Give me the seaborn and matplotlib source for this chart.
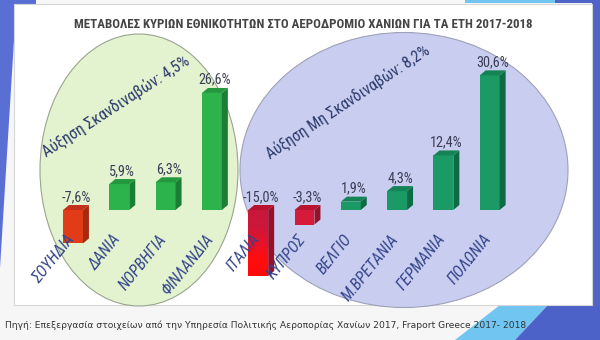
import os
import numpy as np
import matplotlib
matplotlib.use("Agg")
import matplotlib.pyplot as plt
from matplotlib import font_manager
from matplotlib.font_manager import FontProperties
from matplotlib.patches import Ellipse, Polygon, Rectangle
import seaborn as sns

# ---- data ----
countries = ["ΣΟΥΗΔΙΑ", "ΔΑΝΙΑ", "ΝΟΡΒΗΓΙΑ", "ΦΙΝΛΑΝΔΙΑ", "ΙΤΑΛΙΑ",
             "ΚΥΠΡΟΣ", "ΒΕΛΓΙΟ", "Μ.ΒΡΕΤΑΝΙΑ", "ΓΕΡΜΑΝΙΑ", "ΠΟΛΩΝΙΑ"]
changes = [-7.6, 5.9, 6.3, 26.6, -15.0, -3.3, 1.9, 4.3, 12.4, 30.6]
value_labels = ["-7,6%", "5,9%", "6,3%", "26,6%", "-15,0%",
                "-3,3%", "1,9%", "4,3%", "12,4%", "30,6%"]
front_colors = ["#e23b17", "#2db34b", "#2db34b", "#2db34b", "#d9163a",
                "#d61a3a", "#1b9a66", "#1b9a66", "#1b9a66", "#1b9a66"]
side_colors = ["#a52a10", "#1c7d34", "#1c7d34", "#1c7d34", "#96102a",
               "#961229", "#0f6a46", "#0f6a46", "#0f6a46", "#0f6a46"]
top_colors = ["#c4301a", "#24983f", "#24983f", "#24983f", "#b8122f",
              "#b8142f", "#148356", "#148356", "#148356", "#148356"]
title = "ΜΕΤΑΒΟΛΕΣ ΚΥΡΙΩΝ ΕΘΝΙΚΟΤΗΤΩΝ ΣΤΟ ΑΕΡΟΔΡΟΜΙΟ ΧΑΝΙΩΝ ΓΙΑ ΤΑ ΕΤΗ 2017-2018"
note_scand = "Αύξηση Σκανδιναβών: 4,5%"
note_nonscand = "Αύξηση Μη Σκανδιναβών: 8,2%"
caption = ("Πηγή: Επεξεργασία στοιχείων από την Υπηρεσία Πολιτικής Αεροπορίας "
           "Χανίων 2017, Fraport Greece 2017- 2018")

sns.set_style("white")
plt.rcParams["font.family"] = ["DejaVu Sans"]


def find_condensed(weight, italic=False):
    prefs = ["roboto", "noto", "dejavu", "open", "liberation", "lato"]
    found = []
    for f in font_manager.fontManager.ttflist:
        base = os.path.basename(f.fname).lower()
        nm = f.name.lower()
        cond = ("condensed" in base or "narrow" in base or "condensed" in nm
                or "narrow" in nm or f.stretch in ("condensed", "semi-condensed"))
        if not cond or "extra" in base or "ultra" in base:
            continue
        is_it = "italic" in base or "oblique" in base
        if is_it != italic:
            continue
        is_bold = "bold" in base and "semi" not in base and "extra" not in base
        is_reg = not any(k in base for k in ("bold", "light", "thin", "medium",
                                             "black", "semibold", "extralight"))
        if (weight == "bold" and is_bold) or (weight == "regular" and is_reg):
            rank = next((k for k, p in enumerate(prefs) if p in base or p in nm), 99)
            found.append((rank, f.fname))
    if found:
        found.sort()
        return FontProperties(fname=found[0][1])
    return FontProperties(family="Roboto", weight=weight,
                          style="italic" if italic else "normal")


fp_reg = find_condensed("regular")
fp_bold = find_condensed("bold")
fp_it = find_condensed("regular", italic=True)

W, H = 600, 340
fig = plt.figure(figsize=(6, 3.4), dpi=100, facecolor="#f6f6f6")
ax = fig.add_axes([0, 0, 1, 1])
ax.axis("off")


def fp(x, y):
    return (x / W, 1 - y / H)


# ---- slide decoration ----
def fpoly(pts, color, z):
    p = Polygon([fp(*q) for q in pts], closed=True, transform=fig.transFigure,
                facecolor=color, edgecolor="none", zorder=z)
    ax.add_patch(p)


fpoly([(0, 0), (36, 0), (36, 4), (14, 4), (14, 40), (0, 268)], "#5a6fd4", 0.1)
fpoly([(465, 0), (555, 0), (555, 3), (465, 3)], "#70c6f0", 0.1)
fpoly([(555, 0), (600, 0), (600, 3), (555, 3)], "#4f63c8", 0.1)
fpoly([(592, 0), (600, 0), (600, 340), (592, 340)], "#4f63c8", 0.1)
fpoly([(455, 340), (500, 305), (548, 305), (515, 340)], "#70c6f0", 0.1)
fpoly([(515, 340), (548, 305), (600, 305), (600, 340)], "#4d62c9", 0.1)
panel = Rectangle(fp(14, 305), 578 / W, 301 / H, transform=fig.transFigure,
                  facecolor="white", edgecolor="#d6d6d6", lw=0.8, zorder=0.2)
ax.add_patch(panel)

e1 = Ellipse(fp(139, 170), 198 / W, 272 / H, transform=fig.transFigure,
             facecolor="#e3f2cf", edgecolor="#9aa58f", lw=0.8, zorder=0.3)
e2 = Ellipse(fp(404, 170), 328 / W, 275 / H, transform=fig.transFigure,
             facecolor="#c9cdf0", edgecolor="#9ea1b8", lw=0.8, zorder=0.3)
ax.add_patch(e1)
ax.add_patch(e2)

# ---- bars ----
sns.barplot(x=countries, y=changes, hue=countries, palette=front_colors,
            legend=False, width=0.43, saturation=1, ax=ax, zorder=2,
            edgecolor="none")

px_per_x = 46.3
px_per_y = 4.4
x0px, y0px = 73, 210

dx = 6 / px_per_x
dy = 5 / px_per_y
bars = sorted([p for p in ax.patches if isinstance(p, Rectangle) and p.get_zorder() == 2],
              key=lambda p: p.get_x())
for i, p in enumerate(bars):
    xa = p.get_x()
    xb = xa + p.get_width()
    v = changes[i]
    top = max(v, 0)
    bot = min(v, 0)
    side = Polygon([(xb, bot), (xb + dx, bot + dy), (xb + dx, top + dy), (xb, top)],
                   facecolor=side_colors[i], edgecolor="none", zorder=2)
    topf = Polygon([(xa, top), (xb, top), (xb + dx, top + dy), (xa + dx, top + dy)],
                   facecolor=top_colors[i], edgecolor="none", zorder=2)
    ax.add_patch(side)
    ax.add_patch(topf)
    if countries[i] == "ΙΤΑΛΙΑ":
        grad = np.linspace(0, 1, 100).reshape(-1, 1)
        cmap = matplotlib.colors.LinearSegmentedColormap.from_list(
            "it", ["#ff0a0a", "#ff0d0d", "#e8122a", "#cc173a", "#c8173a"])
        im = ax.imshow(grad, extent=(xa, xb, bot, top), origin="lower",
                       cmap=cmap, aspect="auto", zorder=2.1)
        im.set_clip_path(p)
    t = ax.text((xa + xb) / 2 + dx / 2, top + 3.0, value_labels[i], ha="center",
                va="center", fontproperties=fp_reg, color="#3b3f55", zorder=3)
    t.set_fontsize(10.3)
    t2 = ax.text(i - 0.03, -6.0, countries[i], rotation=51, rotation_mode="anchor",
                 ha="right", va="center", fontproperties=fp_it,
                 color="#33448a", zorder=3)
    t2.set_fontsize(11.5)

ax.set_xlim(-x0px / px_per_x, (W - x0px) / px_per_x)
ax.set_ylim(-(H - y0px) / px_per_y, y0px / px_per_y)

# ---- texts ----
t_title = fig.text(*fp(303, 25), title, ha="center", va="center",
                   fontproperties=fp_bold, color="#444444")
t_title.set_fontsize(11)
t_n1 = fig.text(*fp(116, 106), note_scand, ha="center", va="center", rotation=33,
                fontproperties=fp_reg, color="#2b3a6b")
t_n2 = fig.text(*fp(348, 102), note_nonscand, ha="center", va="center", rotation=33.5,
                fontproperties=fp_reg, color="#2b3a6b")
t_cap = fig.text(*fp(5, 325), caption, ha="left", va="center", fontsize=7.6,
                 color="#333333")

# fit text widths to the reference's measured widths (pixels)
fig.canvas.draw()
r = fig.canvas.get_renderer()


def fit(t, target_w):
    rot = t.get_rotation()
    t.set_rotation(0)
    w = t.get_window_extent(r).width
    t.set_fontsize(t.get_fontsize() * target_w / w)
    t.set_rotation(rot)


fit(t_title, 456)
fit(t_cap, 520)
fit(t_n1, 172)
fit(t_n2, 192)

fig.savefig("out.png", dpi=100, facecolor=fig.get_facecolor())
